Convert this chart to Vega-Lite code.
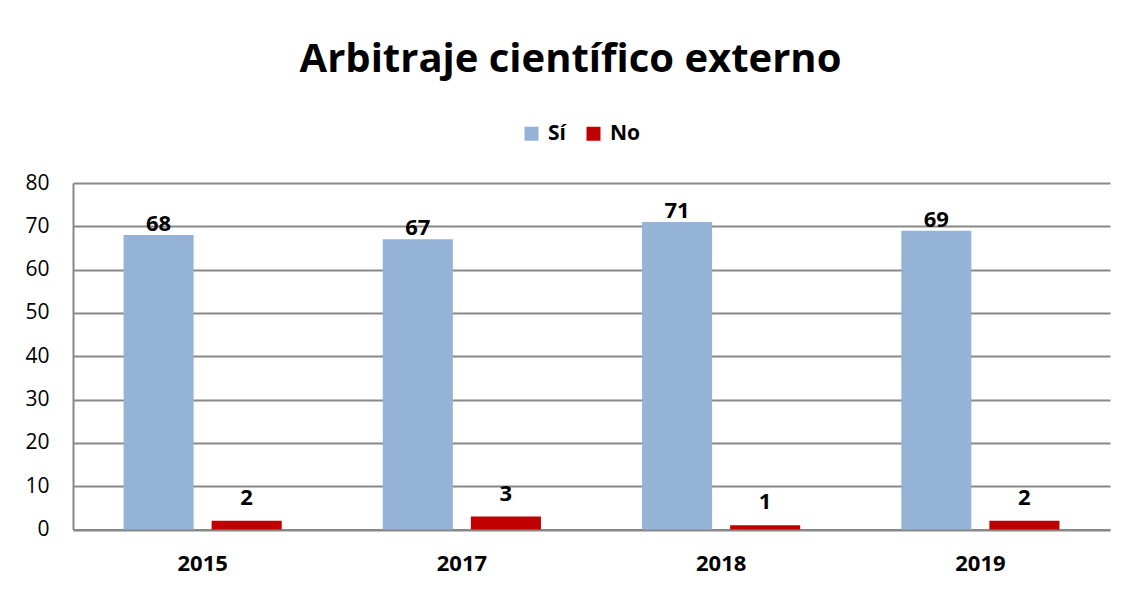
{
  "$schema": "https://vega.github.io/schema/vega-lite/v6.json",
  "width": 1037,
  "height": 346.5,
  "autosize": {"type": "none"},
  "padding": {"left": 73, "top": 183, "right": 24, "bottom": 65.5},
  "background": "white",
  "config": {
    "font": "Open Sans",
    "view": {"stroke": null},
    "axis": {"gridColor": "#888888", "gridWidth": 2, "domainColor": "#888888", "domainWidth": 2, "ticks": false, "labelColor": "#000000", "titleColor": "#000000"}
  },
  "title": {
    "text": "Arbitraje científico externo",
    "fontSize": 40,
    "fontWeight": "bold",
    "color": "#000000",
    "anchor": "middle",
    "frame": "group",
    "dx": -21,
    "offset": 43
  },
  "data": {
    "values": [
      {"year": "2015", "serie": "Sí", "value": 68},
      {"year": "2015", "serie": "No", "value": 2},
      {"year": "2017", "serie": "Sí", "value": 67},
      {"year": "2017", "serie": "No", "value": 3},
      {"year": "2018", "serie": "Sí", "value": 71},
      {"year": "2018", "serie": "No", "value": 1},
      {"year": "2019", "serie": "Sí", "value": 69},
      {"year": "2019", "serie": "No", "value": 2}
    ]
  },
  "encoding": {
    "x": {
      "field": "year", "type": "nominal", "title": null,
      "scale": {"paddingInner": 0, "paddingOuter": 0},
      "axis": {"labelAngle": 0, "labelFontSize": 22, "labelFontWeight": "bold", "labelPadding": 24, "grid": false, "domain": true}
    },
    "xOffset": {
      "field": "serie", "type": "nominal",
      "sort": ["Sí", "No"],
      "scale": {"domain": ["Sí", "No"], "paddingInner": 0.2045, "paddingOuter": 0.574}
    },
    "y": {
      "field": "value", "type": "quantitative", "title": null,
      "scale": {"domain": [0, 80], "nice": false},
      "axis": {"values": [0, 10, 20, 30, 40, 50, 60, 70, 80], "labelFontSize": 21, "labelPadding": 24, "grid": true, "domain": true}
    }
  },
  "layer": [
    {
      "mark": {"type": "bar"},
      "encoding": {
        "color": {
          "field": "serie", "type": "nominal",
          "scale": {"domain": ["Sí", "No"], "range": ["#95B3D7", "#C00000"]},
          "legend": {
            "title": null, "orient": "none", "direction": "horizontal",
            "legendX": 448, "legendY": -60,
            "symbolType": "square", "symbolSize": 196, "symbolStrokeWidth": 0,
            "labelFontSize": 21, "labelFontWeight": "bold", "labelColor": "#000000",
            "labelOffset": 6, "columnPadding": 17
          }
        }
      }
    },
    {
      "transform": [{"filter": "datum.serie === 'Sí'"}],
      "mark": {"type": "text", "fontSize": 22, "fontWeight": "bold", "color": "#000000", "baseline": "alphabetic", "dy": -4},
      "encoding": {"text": {"field": "value", "type": "quantitative"}}
    },
    {
      "transform": [{"filter": "datum.serie === 'No'"}],
      "mark": {"type": "text", "fontSize": 22, "fontWeight": "bold", "color": "#000000", "baseline": "alphabetic", "dy": -16},
      "encoding": {"text": {"field": "value", "type": "quantitative"}}
    }
  ]
}
